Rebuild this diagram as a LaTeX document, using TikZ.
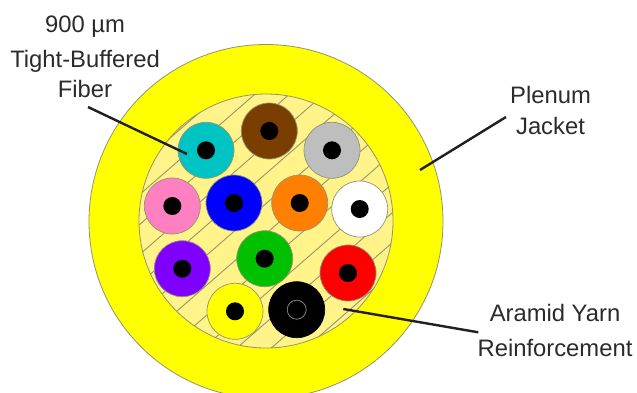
\documentclass[tikz,border=0pt]{standalone}
\usepackage{fontspec}
\setmainfont{Liberation Sans}
\definecolor{jacket}{HTML}{FFFF00}
\definecolor{yarn}{HTML}{FFF38A}
\definecolor{hatchc}{HTML}{98956A}
\definecolor{edgec}{HTML}{929278}
\definecolor{ink}{HTML}{231F20}
\definecolor{txt}{HTML}{2B2B2B}
\tikzset{
  buffer/.style={circle,draw=edgec,line width=0.7pt,minimum size=56pt,inner sep=0pt},
  core/.style={circle,fill=black,minimum size=18pt,inner sep=0pt},
  leader/.style={draw=ink,line width=2.4pt},
  lbl/.style={text=txt,font=\fontsize{23.8}{28}\selectfont,align=center,inner sep=0pt,anchor=base},
  hatch/.style={draw=hatchc,line width=0.9pt}
}
\begin{document}
\begin{tikzpicture}[x=1pt,y=-1pt]
\useasboundingbox (0,0) rectangle (637,392);
\clip (0,0) rectangle (637,392);
\fill[white] (0,0) rectangle (637,392);
\node[circle,fill=jacket,draw=edgec,line width=0.8pt,minimum size=354pt,inner sep=0pt] (jacket) at (266,221.5) {};
\begin{scope}
  \clip (266,221) circle (127);
  \fill[yarn] (266,221) circle (127);
  \foreach \c in {286,316,346,376,405,435,465,495,525,554,584,614}
    \draw[hatch] (100,{\c-87}) -- (430,{\c-374.1});
\end{scope}
\draw[edgec,line width=0.8pt] (266,221) circle (127);
\foreach \n/\x/\y/\col in {
  cyan/206/150.3/00C4C4,
  brown/269.3/131/7A3F00,
  gray/332/150.3/BEBEBE,
  pink/172.3/206/FF80C0,
  blue/234/203/0000FF,
  orange/299.7/203/FF8000,
  white/359.7/209/FFFFFF,
  purple/182.3/268.7/8000FF,
  green/264.7/258.7/00C000,
  red/348/273/FF0000,
  yellow/235/311.3/FFFF00}{
  \definecolor{fc}{HTML}{\col}
  \node[buffer,fill=fc] (f\n) at (\x,\y) {};
  \node[core] (c\n) at (f\n.center) {};
}
\node[buffer,fill=black,draw=black] (fblack) at (296.7,309.7) {};
\node[circle,fill=black,draw=gray,line width=0.8pt,minimum size=19pt,inner sep=0pt] (cblack) at (fblack.center) {};
\node[lbl] (t1) at (85,32) {900 µm};
\node[lbl] (t2) at (85,67.5) {Tight-Buffered};
\node[lbl] (t3) at (85,97) {Fiber};
\node[lbl] (t4) at (550.5,103) {Plenum};
\node[lbl] (t5) at (550.5,134) {Jacket};
\node[lbl] (t6) at (555,321) {Aramid Yarn};
\node[lbl] (t7) at (555,356) {Reinforcement};
\coordinate (a1) at (88,107);
\coordinate (a2) at (187,154);
\coordinate (b1) at (506,117);
\coordinate (b2) at (420,170);
\coordinate (d1) at (478.3,332.3);
\coordinate (d2) at (343.3,309);
\draw[leader] (a1) -- (a2);
\draw[leader] (b1) -- (b2);
\draw[leader] (d1) -- (d2);
\end{tikzpicture}
\end{document}
